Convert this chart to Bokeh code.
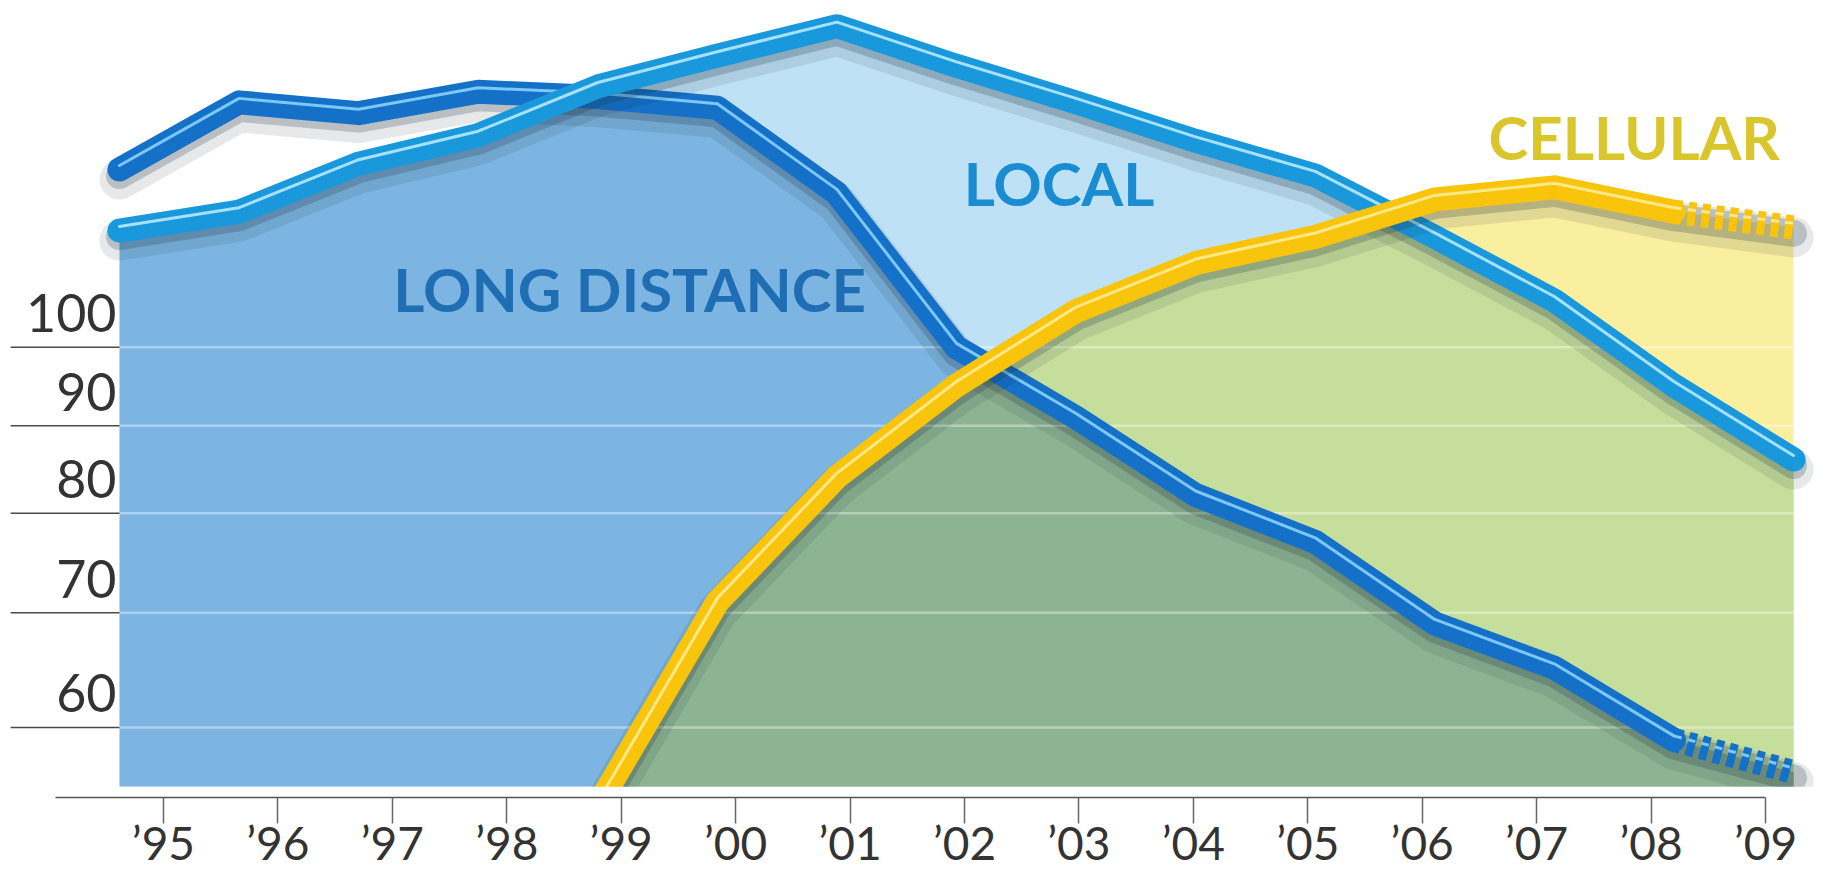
import numpy as np
from bokeh.plotting import figure
from bokeh.models import Range1d, LinearAxis, FixedTicker, BoxAnnotation
from bokeh.core.properties import value
from bokeh.embed import file_html
from bokeh.resources import INLINE

# ---- data -------------------------------------------------------------
YEARS = list(range(1995, 2010))
TICK_LABELS = ["’95", "’96", "’97", "’98", "’99", "’00", "’01", "’02",
               "’03", "’04", "’05", "’06", "’07", "’08", "’09"]
LONG_DISTANCE = [127, 139, 137, 141, 140, 138, 123, 100, 91, 82, 77, 69, 65, 59, 56.5]
LOCAL = [117, 120, 128, 133, 142, 148, 154, 146, 139, 132, 126, 116, 106.5, 95, 86]
CELLULAR = [np.nan, np.nan, np.nan, np.nan, 54, 71, 84, 95, 105, 112, 116, 122, 124, 120, 117.5]
Y_TICKS = [60, 70, 80, 90, 100]
LABELS = ["LONG DISTANCE", "LOCAL", "CELLULAR"]

# ---- layout constants ------------------------------------------------
W, H = 1823, 870
X_RANGE = (1994.005, 2009.251)      # data years across the canvas
TICK_RANGE = (1993.576, 2009.507)   # scale used by the year labels
Y_RANGE = (49.5, 159.4)             # log scale, whole canvas height
BASE = 55.4                         # floor of the filled areas
AXIS_AT = 54.6                      # where the year axis line sits
STUB_X = 1994.09                    # left end of the value stubs
LABEL_X = [1997.29, 2002.06, 2006.45]
LABEL_Y = [108.2, 124.7, 132.7]

MID_BLUE = "#7cb5e2"
LIGHT_BLUE = "#bfe1f5"
DARK_GREEN = "#8db492"
LIGHT_GREEN = "#c6de9b"
PALE_YELLOW = "#faee9f"

LD_COLOR, LD_HI = "#1570c8", "#7cc8f7"
LOC_COLOR, LOC_HI = "#1a98dc", "#a6e2ff"
CELL_COLOR, CELL_HI = "#f8c40c", "#ffe889"
FONT = "Lato"

p = figure(width=W, height=H, x_range=Range1d(*X_RANGE), y_range=Range1d(*Y_RANGE),
           y_axis_type="log", x_axis_location=None, y_axis_location=None,
           toolbar_location=None, output_backend="svg",
           min_border_left=0, min_border_right=0, min_border_top=0, min_border_bottom=0,
           outline_line_color=None, background_fill_color="white",
           border_fill_color="white")
p.grid.visible = False
p.extra_x_ranges = {"ticks": Range1d(*TICK_RANGE)}

ppd = H / np.log10(Y_RANGE[1] / Y_RANGE[0])   # screen pixels per decade


def shift(vals, px):
    """Move a series by px screen pixels (positive = down)."""
    return [v * 10 ** (-px / ppd) for v in vals]


# ---- filled regions (piecewise straight in screen space) ---------------
xs = np.linspace(YEARS[0], YEARS[-1], 2801)
yrs = np.array(YEARS, float)


def trace(vals):
    v = np.array(vals, float)
    ok = ~np.isnan(v)
    out = 10 ** np.interp(xs, yrs[ok], np.log10(v[ok]))
    out[xs < yrs[ok][0]] = np.nan
    return out


ld = trace(LONG_DISTANCE)
lc = trace(LOCAL)
ce = trace(CELLULAR)
ce = np.where(np.isnan(ce), BASE, np.maximum(ce, BASE))
lo = np.minimum(ld, lc)
hi = np.maximum(ld, lc)

p.varea(x=xs, y1=BASE, y2=lo, fill_color=MID_BLUE)
p.varea(x=xs, y1=ld, y2=np.where(lc > ld, lc, ld), fill_color=LIGHT_BLUE)
p.varea(x=xs, y1=BASE, y2=np.minimum(ce, lo), fill_color=DARK_GREEN)
p.varea(x=xs, y1=ld, y2=np.where(lc > ld, np.clip(ce, ld, lc), ld), fill_color=LIGHT_GREEN)
p.varea(x=xs, y1=hi, y2=np.maximum(hi, ce), fill_color=PALE_YELLOW)

# ---- value grid ------------------------------------------------------
n = len(Y_TICKS)
p.segment(x0=[YEARS[0]] * n, y0=Y_TICKS, x1=[YEARS[-1]] * n, y1=Y_TICKS,
          line_color="white", line_alpha=0.38, line_width=2.5)
p.segment(x0=[STUB_X] * n, y0=Y_TICKS, x1=[YEARS[0]] * n, y1=Y_TICKS,
          line_color="#4a4a4a", line_width=1.5)
p.text(x=[YEARS[0]] * n, y=Y_TICKS, text=[str(t) for t in Y_TICKS],
       x_offset=-3, y_offset=-34, text_align="right", text_baseline="middle",
       text_font=value(FONT), text_font_size="52px", text_color="#333333")


# ---- series lines ----------------------------------------------------
def draw_series(vals, color, hl, dashed_last):
    solid = vals[:-1] if dashed_last else vals
    ys_solid = YEARS[:len(solid)]
    # soft shadow below the band
    p.line(YEARS, shift(vals, 10), line_color="#1b2c3a", line_alpha=0.11,
           line_width=40, line_join="round", line_cap="round")
    p.line(YEARS, shift(vals, 6), line_color="#1b2c3a", line_alpha=0.22,
           line_width=27, line_join="round", line_cap="round")
    p.line(ys_solid, solid, line_color=color, line_width=24,
           line_join="round", line_cap="round")
    p.line(ys_solid, shift(solid, -4), line_color=hl, line_width=3,
           line_join="round", line_cap="round")
    if dashed_last:
        p.line(YEARS[-2:], vals[-2:], line_color=color, line_width=24,
               line_dash="8 6", line_cap="butt")
        p.line(YEARS[-2:], shift(vals[-2:], -4), line_color=hl, line_width=3,
               line_dash="8 6", line_cap="butt")


draw_series(LONG_DISTANCE, LD_COLOR, LD_HI, True)
draw_series(LOCAL, LOC_COLOR, LOC_HI, False)
draw_series(CELLULAR, CELL_COLOR, CELL_HI, True)

# ---- series names ----------------------------------------------------
p.text(x=LABEL_X, y=LABEL_Y, text=LABELS,
       text_color=["#1f6db3", "#1a8cd2", "#d9c62c"],
       text_align="left", text_baseline="middle",
       text_font=value(FONT), text_font_style="bold", text_font_size="60px")

# white strip between the areas and the year axis
p.add_layout(BoxAnnotation(top=BASE, fill_color="white", fill_alpha=1.0,
                           line_color=None))

# ---- year axis -------------------------------------------------------
xaxis = LinearAxis(x_range_name="ticks", ticker=FixedTicker(ticks=YEARS),
                   major_label_overrides=dict(zip(YEARS, TICK_LABELS)),
                   fixed_location=AXIS_AT, bounds=(1994.057, 2009.0),
                   axis_line_color="#555555", axis_line_width=1.5,
                   major_tick_in=0, major_tick_out=26,
                   major_tick_line_color="#666666", major_tick_line_width=1.5,
                   minor_tick_line_color=None, major_label_standoff=-9,
                   major_label_text_font=FONT, major_label_text_font_size="46px",
                   major_label_text_color="#333333")
xaxis.level = "overlay"
p.add_layout(xaxis, "below")

open("out.html", "w").write(file_html(p, INLINE))
